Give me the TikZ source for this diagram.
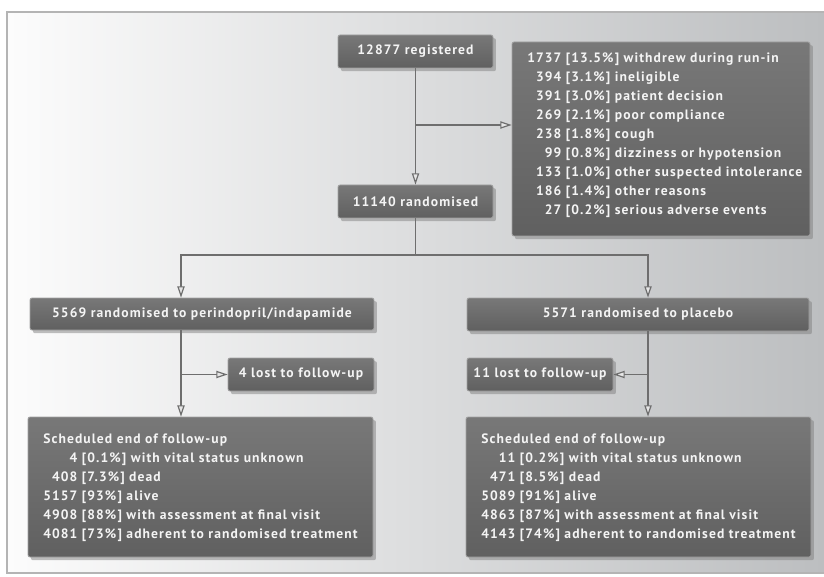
\documentclass[tikz,border=0pt]{standalone}
\usepackage{fontspec}
\setmainfont{PT Sans}[LetterSpace=8]
\usetikzlibrary{arrows.meta,shadows}
\definecolor{boxtop}{HTML}{787878}
\definecolor{boxbot}{HTML}{606060}
\definecolor{boxline}{HTML}{A2A2A2}
\definecolor{txtc}{HTML}{F4F4F4}
\definecolor{linec}{HTML}{6E6E6E}
\definecolor{bgl}{HTML}{FCFCFC}
\definecolor{bgr}{HTML}{BCBEC0}
\definecolor{framec}{HTML}{B4B4B4}
\definecolor{tipc}{HTML}{E6E6E6}
\begin{document}
\begin{tikzpicture}[x=0.75pt,y=-0.75pt,
  box/.style={draw=boxline, line width=0.6pt, rounded corners=1.5pt,
    top color=boxtop, bottom color=boxbot,
    drop shadow={shadow xshift=2.2pt, shadow yshift=-2.4pt, opacity=0.5},
    text=txtc, font=\bfseries\fontsize{10.2}{14.25}\selectfont, inner sep=0pt},
  txt/.style={text=txtc, font=\bfseries\fontsize{10.2}{14.25}\selectfont, inner sep=0pt, align=left},
  conn/.style={draw=linec, line width=0.9pt},
  arr/.style={conn, -{Triangle[length=8.5pt,width=5.5pt,fill=tipc]}}
]
\useasboundingbox (0,0) rectangle (824,577);
% background panel
\fill[left color=bgl, right color=bgr] (7,12) rectangle (824,573);
\draw[framec, line width=1.3pt] (824,12) -- (7,12) -- (7,573) -- (824,573);

% boxes
\node[box, minimum width=116.25pt, minimum height=24.75pt] (reg) at (415.5,51.5) {12877 registered};
\node[box, minimum width=223.5pt, minimum height=145.5pt] (wd) at (661,139) {};
\node[txt, anchor=west] (wdt) at (527,135) {%
\begin{tabular}{@{}r@{\ }l@{}}
1737 & [13.5\%] withdrew during run-in\\
394 & [3.1\%] ineligible\\
391 & [3.0\%] patient decision\\
269 & [2.1\%] poor compliance\\
238 & [1.8\%] cough\\
99 & [0.8\%] dizziness or hypotension\\
133 & [1.0\%] other suspected intolerance\\
186 & [1.4\%] other reasons\\
27 & [0.2\%] serious adverse events
\end{tabular}};
\node[box, minimum width=116.25pt, minimum height=24.75pt] (rand) at (415.5,201.5) {11140 randomised};
\node[box, minimum width=258pt, minimum height=24pt] (perin) at (202,314) {5569 randomised to perindopril/indapamide};
\node[box, minimum width=256.5pt, minimum height=24.75pt] (plac) at (638,314.5) {5571 randomised to placebo};
\node[box, minimum width=109.5pt, minimum height=24.75pt] (lost4) at (301,374.5) {4 lost to follow-up};
\node[box, minimum width=109.5pt, minimum height=24.75pt] (lost11) at (540,374.5) {11 lost to follow-up};
\node[box, minimum width=258.75pt, minimum height=105pt] (endL) at (200.5,487) {};
\node[txt, anchor=west] (endLt) at (43,487.5) {%
\begin{tabular}{@{}r@{\ }l@{}}
\multicolumn{2}{@{}l@{}}{Scheduled end of follow-up}\\
4 & [0.1\%] with vital status unknown\\
408 & [7.3\%] dead\\
5157 & [93\%] alive\\
4908 & [88\%] with assessment at final visit\\
4081 & [73\%] adherent to randomised treatment
\end{tabular}};
\node[box, minimum width=258.75pt, minimum height=105pt] (endR) at (638.5,487) {};
\node[txt, anchor=west] (endRt) at (481,487.5) {%
\begin{tabular}{@{}r@{\ }l@{}}
\multicolumn{2}{@{}l@{}}{Scheduled end of follow-up}\\
11 & [0.2\%] with vital status unknown\\
471 & [8.5\%] dead\\
5089 & [91\%] alive\\
4863 & [87\%] with assessment at final visit\\
4143 & [74\%] adherent to randomised treatment
\end{tabular}};

% connector coordinates
\coordinate (b1) at (415.5,125);
\coordinate (split) at (415.5,255);
\coordinate (sL) at (181,255);
\coordinate (sR) at (648,255);

% connectors
\draw[arr] (reg.south) -- (rand.north);
\draw[arr] (b1) -- (b1 -| wd.west);
\draw[arr] (rand.south) -- (split) -- (sL) -- (sL |- perin.north);
\draw[arr] (split) -- (sR) -- (sR |- plac.north);
\draw[arr] (sL |- perin.south) -- (sL |- endL.north);
\draw[arr] (sL |- lost4.west) -- (lost4.west);
\draw[arr] (sR |- plac.south) -- (sR |- endR.north);
\draw[arr] (sR |- lost11.east) -- (lost11.east);
\end{tikzpicture}
\end{document}
